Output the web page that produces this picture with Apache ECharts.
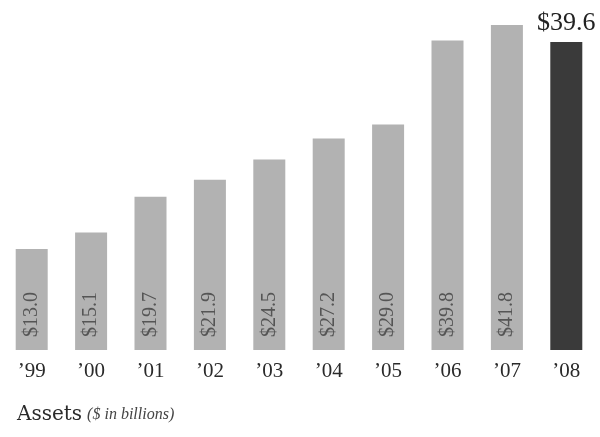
<!DOCTYPE html>
<html>
<head>
<meta charset="utf-8">
<script src="https://cdn.jsdelivr.net/npm/echarts@6/dist/echarts.min.js"></script>
<style>
html,body{margin:0;padding:0;background:#fff;}
#c{width:600px;height:437px;}
</style>
</head>
<body>
<div id="c"></div>
<script>
const categories = ["’99","’00","’01","’02","’03","’04","’05","’06","’07","’08"];
const assets = [13.0, 15.1, 19.7, 21.9, 24.5, 27.2, 29.0, 39.8, 41.8, 39.6];
const valueLabels = ["$13.0","$15.1","$19.7","$21.9","$24.5","$27.2","$29.0","$39.8","$41.8","$39.6"];

const serif = '"Liberation Serif", "DejaVu Serif", serif';
const chart = echarts.init(document.getElementById('c'));

const data = assets.map((v, i) => {
  const last = i === assets.length - 1;
  if (last) {
    return {
      value: v,
      itemStyle: { color: '#3a3a3a' },
      label: {
        show: true,
        position: 'top',
        rotate: 0,
        distance: 6,
        align: 'center',
        verticalAlign: 'bottom',
        fontSize: 26,
        color: '#222',
        fontFamily: serif,
        formatter: valueLabels[i]
      }
    };
  }
  return { value: v };
});

chart.setOption({
  animation: false,
  backgroundColor: '#fff',
  title: {
    left: 12,
    top: 400,
    text: '{a|Assets} {b|($ in billions)}',
    textStyle: {
      fontWeight: 'normal',
      rich: {
        a: { fontSize: 20, fontFamily: '"DejaVu Serif", serif', fontWeight: 'normal', color: '#2a2a2a' },
        b: { fontSize: 16, fontFamily: serif, fontStyle: 'italic', fontWeight: 'normal', color: '#444' }
      }
    }
  },
  grid: { left: 2, right: 4, top: 0, bottom: 87, containLabel: false },
  xAxis: {
    type: 'category',
    data: categories,
    axisLine: { show: false },
    axisTick: { show: false },
    axisLabel: { fontSize: 21, fontFamily: serif, color: '#2a2a2a', margin: 11 }
  },
  yAxis: {
    type: 'value',
    min: 0,
    max: 45,
    show: false,
    splitLine: { show: false }
  },
  series: [{
    type: 'bar',
    data: data,
    barWidth: 32,
    itemStyle: { color: '#b2b2b2' },
    label: {
      show: true,
      position: 'insideBottom',
      rotate: 90,
      align: 'left',
      verticalAlign: 'middle',
      distance: 13,
      fontSize: 20,
      fontFamily: serif,
      color: '#555',
      formatter: p => valueLabels[p.dataIndex]
    }
  }]
});
</script>
</body>
</html>
